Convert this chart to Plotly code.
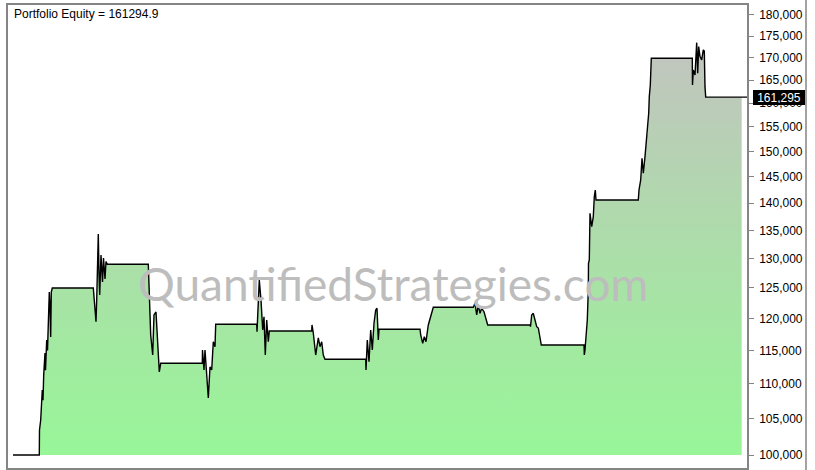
import math
import plotly.graph_objects as go

# Bar index (time) and portfolio equity values
bars = [13, 39.3, 39.5, 40.7, 42.3, 43, 43.7, 45, 45.5, 46.7, 47.5, 48.3, 49.3, 50, 50.7, 51.3, 52.3,
        93.3, 94.5, 96, 96.7, 97.5, 98.3, 99, 99.7, 101, 102.5, 103.5, 105, 106, 107.3,
        148.3, 150, 150.7, 152.7, 154, 156, 157.3, 159.3, 160.7,
        202.3, 202.5, 204, 205, 206.7, 208.3, 210, 211.7, 213.3, 215, 215.7,
        256.7, 257, 258.3, 259.3, 261, 262.7, 264, 265.3, 266.7, 268.3, 269.3,
        311.7, 312, 313.3, 315.7, 318.3, 320, 321.7, 323.3, 325,
        365.7, 366, 367.3, 369, 370.7, 372.3, 374, 375.7, 377, 378.3, 379,
        420, 420.7, 422.7, 424.3, 426, 428.3, 430.7, 433.3,
        473.3, 475, 476.7, 478.3, 480, 481.7, 484, 486, 487.7,
        530, 530.5, 531.7, 533.3, 535, 536.7, 538.3, 540, 541.3,
        584, 584.3, 585, 586, 587.3, 588.3, 588.5, 589.3, 590, 591.7, 593.3, 594.3, 595.3, 596,
        638.3, 639, 640.7, 642, 643.3, 645, 646.7, 647.7, 648.7, 649.3, 650.3, 651.3,
        692.3, 692.5, 693.3, 695, 696, 696.7, 697.7, 698.7, 700, 701.7, 703.3, 704.3, 705, 705.7,
        741.7]

equity = [100000, 100000, 103400, 104790, 109070, 107600, 111280, 114600, 112000, 116610, 115000, 120250, 124330, 122000, 117080, 124330, 125000,
          125000, 122500, 119490, 123000, 128000, 134350, 127500, 123830, 130630, 126000, 130110, 126500, 129500, 129020,
          129020, 121700, 117390, 114290, 120570, 121050, 117390, 111730, 113030,
          113030, 115060, 112030, 115060, 110540, 107910, 112480, 112030, 116340, 115570, 119080,
          119080, 117910, 124670, 126340, 123010, 118180, 120290, 114290, 119760, 116340, 118020,
          118020, 118970, 117700, 114290, 116920, 115570, 116340, 114290, 113640,
          113640, 112030, 116610, 113280, 118180, 115060, 119240, 121380, 121650, 116610, 118290,
          118290, 117390, 116090, 117120, 116340, 118970, 120290, 121820,
          121820, 122470, 120570, 122190, 120840, 121650, 121100, 120040, 118970,
          118970, 118700, 120570, 120840, 119760, 118700, 118490, 117120, 115830,
          115830, 114290, 115060, 116610, 119760, 124670, 129190, 129760, 138110, 135660, 137490, 141210, 142480, 140590,
          140590, 142480, 144400, 148650, 145700, 148970, 153000, 153700, 157860, 161400, 163940, 169890,
          169890, 163940, 167250, 166140, 170640, 173470, 166520, 172550, 170260, 169510, 171790, 171560, 163570, 161295,
          161295]

final_value = 161294.9
base_value = 100000
tick_values = [100000, 105000, 110000, 115000, 120000, 125000, 130000, 135000, 140000,
               145000, 150000, 155000, 160000, 165000, 170000, 175000, 180000]
tick_text = [f"{v:,}" for v in tick_values]

X_RANGE = [8, 747]
Y_RANGE = [4.99246, 5.26107]
FONT = "Arial, Liberation Sans, sans-serif"

fig = go.Figure()

# gradient area
fig.add_trace(go.Scatter(
    x=bars + [bars[-1], bars[0]],
    y=equity + [base_value, base_value],
    fill="toself",
    mode="none",
    fillgradient=dict(type="vertical",
                      colorscale=[[0, "#98F698"], [0.55, "#AEDBAB"], [1, "#C2C4BF"]]),
    hoverinfo="skip",
    showlegend=False,
))

# equity line (extended to the right edge as price line)
fig.add_trace(go.Scatter(
    x=bars + [X_RANGE[1]],
    y=equity + [equity[-1]],
    mode="lines",
    line=dict(color="black", width=1.4, shape="linear"),
    hoverinfo="skip",
    showlegend=False,
))

# pointer of last-value label
fig.add_trace(go.Scatter(
    x=[X_RANGE[1] + 4], y=[final_value],
    mode="markers",
    marker=dict(symbol="triangle-left", size=10, color="black"),
    cliponaxis=False, hoverinfo="skip", showlegend=False,
))

fig.update_layout(
    width=815, height=470,
    margin=dict(l=8, r=68, t=5, b=2),
    paper_bgcolor="white", plot_bgcolor="white",
    showlegend=False,
    xaxis=dict(range=X_RANGE, showgrid=False, zeroline=False, showticklabels=False,
               ticks="", showline=True, mirror=True, linecolor="#858585", linewidth=1.5),
    yaxis=dict(type="log", range=Y_RANGE, side="right", showgrid=False, zeroline=False,
               tickvals=tick_values, ticktext=tick_text, ticks="outside", ticklen=5,
               tickcolor="#858585", tickwidth=1, ticklabelstandoff=3,
               tickfont=dict(family=FONT, size=12, color="black"),
               showline=True, mirror=True, linecolor="#858585", linewidth=1.5),
    font=dict(family=FONT),
)

fig.add_shape(type="line", xref="paper", yref="paper",
              x0=(806 - 8) / 739, x1=(806 - 8) / 739, y0=-0.01, y1=1.02,
              line=dict(color="#858585", width=1.5))

fig.add_annotation(
    text=f"Portfolio Equity = {final_value}", xref="paper", yref="paper",
    x=0.005, y=1.0, xanchor="left", yanchor="top", showarrow=False,
    font=dict(family=FONT, size=12, color="black"),
)

fig.add_annotation(
    text="QuantifiedStrategies.com", xref="paper", yref="paper",
    x=(393 - 8) / 739, y=(468 - 283) / 463, xanchor="center", yanchor="middle",
    showarrow=False, font=dict(family="Lato", size=46, color="#BDBDBD"),
)

fig.add_annotation(
    text=f"{round(final_value):,}", xref="paper", yref="y",
    x=(753 - 8) / 739, y=math.log10(final_value), xanchor="left", yanchor="middle",
    showarrow=False, bgcolor="black", bordercolor="black", borderwidth=1, borderpad=1,
    width=48, height=11,
    font=dict(family=FONT, size=12, color="white"),
)

fig.write_html("out.html", config={"displayModeBar": False},
               post_script="document.body.style.margin='0px';")
